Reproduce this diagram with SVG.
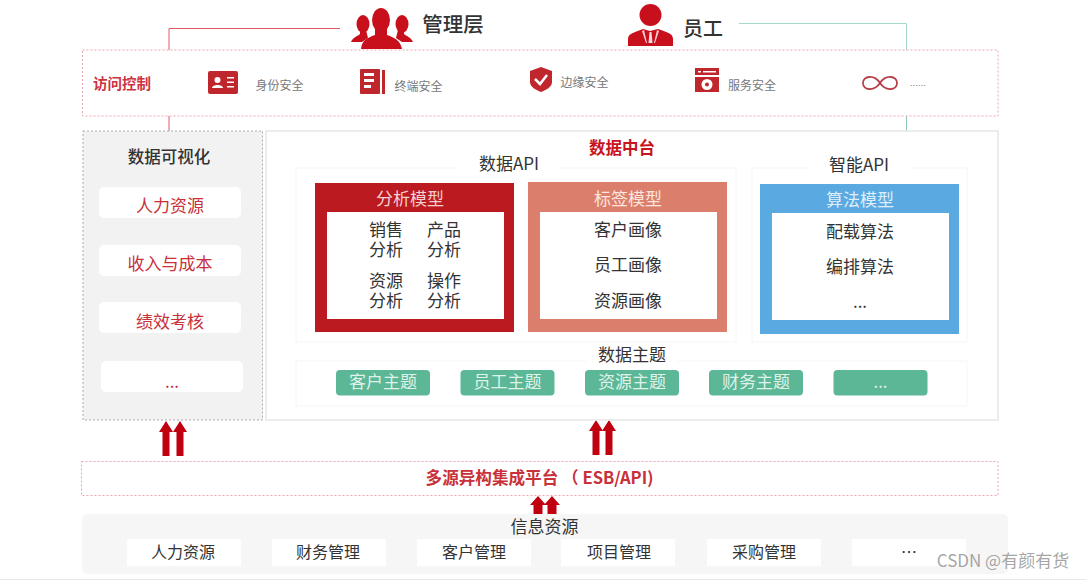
<svg xmlns="http://www.w3.org/2000/svg" width="1086" height="580" viewBox="0 0 1086 580">
<defs>
<style>
text{font-family:"Noto Sans CJK SC","Noto Sans",sans-serif;text-anchor:middle}
.t17{font-size:17px;fill:#333}
.t16{font-size:16px;fill:#333}
.red{fill:#c8303a;font-size:17px}
.small{font-size:12px;fill:#777}
.card{fill:#fff;rx:5px}
.dash{fill:#fff;stroke:#eba6ae;stroke-width:1;stroke-dasharray:2 2}
.ar{fill:#c00010}
.topic{fill:#5cb796}
.topic-t{font-size:17px;fill:#dff2ea}
.res{fill:#fff}
.head{font-size:17px}
</style>
<path id="up" d="M-3.500 35V11H-7L0 0L7 11H3.500V35Z"/>
</defs>
<rect width="1086" height="580" fill="#fff"/>
<g id="connectors" fill="none" stroke-width="1">
<path d="M169 50V28.500H340" stroke="#e05a68"/>
<path d="M169 116V131" stroke="#e05a68"/>
<path d="M739 23.500H906.500V50" stroke="#a5d8c8"/>
<path d="M906.500 116V131" stroke="#8cc5b5"/>
<g class="ar">
<use href="#up" x="166" y="421"/><use href="#up" x="180" y="421"/>
<use href="#up" x="596" y="420"/><use href="#up" x="609" y="420"/>
<path d="M266 268.500L277 263V266H301V271H277V274ZM266 283L277 277.500V280.500H301V285.500H277V288.500Z"/>
<path d="M538 496L546 505H542.500V514H533.500V505H530ZM552 496L560 505H556.500V514H547.500V505H544Z"/>
</g>
</g>
<g id="manager">
<g fill="#c8101c">
<ellipse cx="381" cy="20" rx="9" ry="12"/>
<path d="M361 49C362 40 367 38 375 35V29H387V35C395 38 400 40 402 49Z"/>
<ellipse cx="363" cy="24" rx="6.500" ry="9"/><path d="M351 42C353 37 358 36 360 34V30H366L368 38L362 42Z"/>
<ellipse cx="402" cy="24" rx="6.500" ry="9"/><path d="M413 42C411 37 406 36 404 34V30H398L396 38L402 42Z"/>
</g>
<text x="453" y="32" font-size="20.500" font-weight="500" fill="#333">管理层</text>
</g>
<g id="employee">
<circle cx="650.500" cy="15" r="11" fill="#c8101c"/>
<path d="M628 46V39C628 33 636 32 643 29L650 31L658 29C666 32 673 33 673 39V46Z" fill="#c8101c"/>
<path d="M649.500 32H651.500L652.500 43H648.500Z" fill="#fff" opacity=".85"/>
<path d="M644 30L647 43H646L642 31ZM657 30L654 43H655L659 31Z" fill="#fff" opacity=".8"/>
<text x="703" y="36" font-size="20" font-weight="500" fill="#333">员工</text>
</g>
<g id="access">
<rect class="dash" x="82.500" y="50" width="915.500" height="66"/>
<text x="122" y="89" font-size="14.500" font-weight="700" fill="#cc3340">访问控制</text>
<g fill="#c0272d">
<rect x="208" y="71" width="30" height="23" rx="2"/>
<rect x="360" y="69" width="20" height="25" rx="1"/><rect x="382" y="70" width="3" height="24"/>
<path d="M541 67L552 71V82C552 87 546 90 541 92C536 90 530 87 530 82V71Z"/>
<path d="M695 68H719V75H695ZM695 77H719V92H695Z"/>
</g>
<g fill="#fff">
<circle cx="217.500" cy="80" r="3"/><path d="M212 88C212 84 223 84 223 88Z"/>
<path d="M227 77H234V78.500H227ZM227 81.500H234V83H227ZM227 86H234V87.500H227Z"/>
<path d="M364 73H374V76H364ZM364 79H374V82H364ZM364 85H371V88H364Z"/>
<circle cx="707" cy="84.500" r="5.500"/>
<path d="M698 71H701V72.500H698ZM703 71H716V72.500H703Z"/>
</g>
<path d="M535 79L540 84L547 75" fill="none" stroke="#fff" stroke-width="2.500"/>
<circle cx="707" cy="84.500" r="2" fill="#c0272d"/>
<path d="M880 83C874 74 863 76 863 83C863 90 874 92 880 83C886 74 897 76 897 83C897 90 886 92 880 83Z" fill="none" stroke="#b8404a" stroke-width="1.800"/>
<text class="small" x="279.500" y="90">身份安全</text>
<text class="small" x="418.500" y="91">终端安全</text>
<text class="small" x="584.500" y="87">边缘安全</text>
<text class="small" x="752" y="90">服务安全</text>
<text x="918" y="89" style="font-size:8px;fill:#777">……</text>
</g>
<g id="visualization">
<rect x="83" y="131" width="179.500" height="289" fill="#f2f2f2" stroke="#aaa" stroke-dasharray="2 2"/>
<text x="169" y="163" font-size="16.500" font-weight="500" fill="#333">数据可视化</text>
<rect class="card" x="99" y="187" width="142" height="31"/><text class="red" x="170" y="212">人力资源</text>
<rect class="card" x="99" y="245" width="142" height="31"/><text class="red" x="170" y="270">收入与成本</text>
<rect class="card" x="99" y="302" width="142" height="31"/><text class="red" x="170" y="328">绩效考核</text>
<rect class="card" x="101" y="361" width="142" height="31"/><text class="red" x="172" y="388">...</text>
</g>
<g id="middle">
<rect x="266" y="131" width="732" height="289" fill="#fff" stroke="#e6e6e6" stroke-width="1.500"/>
<text x="622" y="154" font-size="16.500" font-weight="700" fill="#c8141c">数据中台</text>
<rect x="296" y="168" width="440" height="174" fill="#fff" stroke="#f6f6f6"/>
<rect x="752" y="168" width="215" height="174" fill="#fff" stroke="#f6f6f6"/>
<rect x="456" y="152" width="104" height="22" fill="#fff"/>
<rect x="810" y="152" width="100" height="22" fill="#fff"/>
<text class="t17" x="509" y="170">数据API</text>
<text class="t17" x="859" y="171">智能API</text>
</g>
<g id="analysis">
<rect x="315" y="183" width="199" height="149" fill="#bb1a21"/>
<rect x="327" y="212" width="177" height="107" fill="#fff"/>
<text class="head" x="410" y="205" fill="#f3d0d0">分析模型</text>
<text class="t17"><tspan x="386" y="236">销售</tspan><tspan x="386" y="256">分析</tspan></text>
<text class="t17"><tspan x="444" y="236">产品</tspan><tspan x="444" y="256">分析</tspan></text>
<text class="t17"><tspan x="386" y="287">资源</tspan><tspan x="386" y="307">分析</tspan></text>
<text class="t17"><tspan x="444" y="287">操作</tspan><tspan x="444" y="307">分析</tspan></text>
</g>
<g id="tags">
<rect x="528" y="182" width="199" height="150" fill="#db7f6c"/>
<rect x="540" y="212" width="177" height="107" fill="#fff"/>
<text class="head" x="628" y="205" fill="#fbe5df">标签模型</text>
<text class="t17" x="628" y="236">客户画像</text>
<text class="t17" x="628" y="271">员工画像</text>
<text class="t17" x="628" y="307">资源画像</text>
</g>
<g id="algo">
<rect x="760" y="184" width="199" height="150" fill="#5aa9e0"/>
<rect x="772" y="213" width="177" height="107" fill="#fff"/>
<text class="head" x="860" y="206" fill="#dff0fb">算法模型</text>
<text class="t17" x="860" y="238">配载算法</text>
<text class="t17" x="860" y="273">编排算法</text>
<text class="t17" x="860" y="308">...</text>
</g>
<g id="topics">
<rect x="296" y="361" width="671" height="45" fill="#fff" stroke="#f6f6f6"/>
<rect x="586" y="346" width="92" height="20" fill="#fff"/>
<text class="t17" x="632" y="361">数据主题</text>
<rect class="topic" x="336" y="370" width="94" height="25.500" rx="4"/><text class="topic-t" x="383" y="388">客户主题</text>
<rect class="topic" x="460.500" y="370" width="94" height="25.500" rx="4"/><text class="topic-t" x="507.500" y="388">员工主题</text>
<rect class="topic" x="585" y="370" width="94" height="25.500" rx="4"/><text class="topic-t" x="632" y="388">资源主题</text>
<rect class="topic" x="709" y="370" width="94" height="25.500" rx="4"/><text class="topic-t" x="756" y="388">财务主题</text>
<rect class="topic" x="833.500" y="370" width="94" height="25.500" rx="4"/><text class="topic-t" x="880.500" y="388">...</text>
</g>
<g id="esb">
<rect class="dash" x="81.500" y="461.500" width="916.500" height="34"/>
<text x="539.500" y="484" font-size="16.600" font-weight="600" fill="#c8303a">多源异构集成平台 （ ESB/API)</text>
</g>
<g id="resources">
<rect x="82" y="514" width="926" height="60" rx="5" fill="#f6f6f6"/>
<text x="544.500" y="533" font-size="17" fill="#333">信息资源</text>
<rect class="res" x="127" y="539" width="114" height="27"/><text class="t16" x="183" y="558">人力资源</text>
<rect class="res" x="272" y="539" width="114" height="27"/><text class="t16" x="328" y="558">财务管理</text>
<rect class="res" x="417" y="539" width="114" height="27"/><text class="t16" x="474" y="558">客户管理</text>
<rect class="res" x="561" y="539" width="114" height="27"/><text class="t16" x="619" y="558">项目管理</text>
<rect class="res" x="707" y="539" width="114" height="27"/><text class="t16" x="764" y="558">采购管理</text>
<rect class="res" x="852" y="539" width="114" height="27"/><text class="t16" x="909" y="558">…</text>
</g>
<path id="bottom-rule" d="M0 579.500H1086" stroke="#e8e8e8"/>
<text id="watermark" x="1003" y="567" font-size="17" fill="#9a9a9a" fill-opacity=".9">CSDN @有颜有货</text>
</svg>
